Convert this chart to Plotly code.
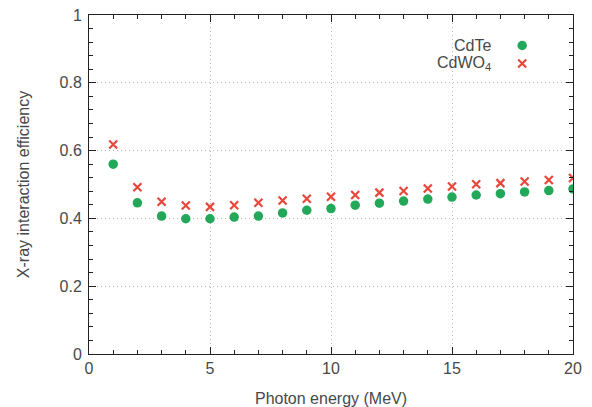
import plotly.graph_objects as go

energy = list(range(1, 21))
cdte = [0.560, 0.446, 0.407, 0.399, 0.399, 0.404, 0.407, 0.416, 0.424, 0.429,
        0.439, 0.445, 0.451, 0.457, 0.463, 0.469, 0.473, 0.478, 0.482, 0.487]
cdwo4 = [0.618, 0.492, 0.449, 0.438, 0.434, 0.439, 0.446, 0.453, 0.458, 0.464,
         0.469, 0.476, 0.481, 0.488, 0.494, 0.501, 0.504, 0.509, 0.513, 0.519]
series_names = ["CdTe", "CdWO<sub>4</sub>"]

GREEN = "#23a85a"
RED = "#e8473b"
FONT = "Liberation Sans, Arial, sans-serif"
TXT = "#484848"
FS = 16

fig = go.Figure()
fig.add_trace(go.Scatter(x=energy, y=cdte, mode="markers", name="CdTe",
                         marker=dict(symbol="circle", size=9.5, color=GREEN,
                                     line=dict(width=0)), showlegend=False))
fig.add_trace(go.Scatter(x=energy, y=cdwo4, mode="markers", name="CdWO4",
                         marker=dict(symbol="x-thin", size=8,
                                     line=dict(width=2.2, color=RED)),
                         showlegend=False))

# legend keys (gnuplot style: text right-aligned, symbol to the right)
leg_y = [0.91, 0.857]
fig.add_trace(go.Scatter(x=[0.895], y=[leg_y[0]], xaxis="x2", yaxis="y2",
                         mode="markers", showlegend=False, hoverinfo="skip",
                         marker=dict(symbol="circle", size=9.5, color=GREEN)))
fig.add_trace(go.Scatter(x=[0.895], y=[leg_y[1]], xaxis="x2", yaxis="y2",
                         mode="markers", showlegend=False, hoverinfo="skip",
                         marker=dict(symbol="x-thin", size=8,
                                     line=dict(width=2.2, color=RED))))
for name, yy in zip(series_names, leg_y):
    fig.add_annotation(x=0.835, y=yy, xref="x2", yref="y2", text=name,
                       showarrow=False, xanchor="right", yanchor="middle",
                       font=dict(family=FONT, size=FS, color=TXT))

axis_common = dict(
    showline=True, linecolor="#222222", linewidth=1, mirror="ticks",
    ticks="inside", ticklen=7, tickwidth=1, tickcolor="#222222",
    showgrid=True, gridcolor="#b8b8b8", griddash="1px,3px", gridwidth=1,
    zeroline=False, automargin=False,
    tickfont=dict(family=FONT, size=FS, color=TXT),
)

fig.update_layout(
    width=592, height=407,
    margin=dict(l=89, r=19, t=15, b=53),
    paper_bgcolor="white", plot_bgcolor="white",
    font=dict(family=FONT, size=FS, color=TXT),
    xaxis=dict(range=[0, 20], dtick=5, tick0=0,
               title=dict(text="Photon energy (MeV)", standoff=17,
                          font=dict(family=FONT, size=FS, color=TXT)),
               minor=dict(dtick=1, ticks="inside", ticklen=4,
                          tickcolor="#222222", showgrid=False),
               **axis_common),
    yaxis=dict(range=[0, 1], dtick=0.2, tick0=0,
               title=dict(text="X-ray interaction efficiency", standoff=25,
                          font=dict(family=FONT, size=FS, color=TXT)),
               minor=dict(dtick=0.04, ticks="inside", ticklen=4,
                          tickcolor="#222222", showgrid=False),
               tickformat="~g", ticklabelstandoff=3,
               **axis_common),
    xaxis2=dict(range=[0, 1], domain=[0, 1], overlaying="x", visible=False,
                anchor="y2"),
    yaxis2=dict(range=[0, 1], domain=[0, 1], overlaying="y", visible=False,
                anchor="x2"),
)

fig.write_html("out.html")
